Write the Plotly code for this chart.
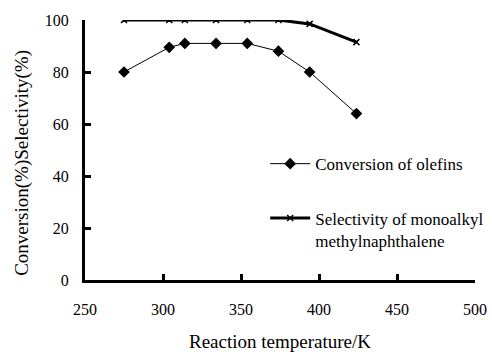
import plotly.graph_objects as go

temperature = [275, 304, 314, 334, 354, 374, 394, 424]
conversion = [80, 89.5, 91, 91, 91, 88, 80, 64]
selectivity = [100, 100, 100, 100, 100, 100, 98.5, 91.5]

x_ticks = [250, 300, 350, 400, 450, 500]
y_ticks = [0, 20, 40, 60, 80, 100]

x_title = "Reaction temperature/K"
y_title = "Conversion(%)Selectivity(%)"

FONT = "Liberation Serif"

fig = go.Figure()
fig.add_trace(go.Scatter(
    x=temperature, y=conversion, mode="lines+markers",
    name="Conversion of olefins",
    line=dict(color="black", width=1),
    marker=dict(symbol="diamond", size=9, color="black"),
    legend="legend",
))
fig.add_trace(go.Scatter(
    x=temperature, y=selectivity, mode="lines+markers",
    name="Selectivity of monoalkyl<br>methylnaphthalene",
    line=dict(color="black", width=3),
    marker=dict(symbol="x-thin", size=6, color="black", line=dict(color="black", width=1.5)),
    legend="legend2",
))

fig.update_layout(
    width=492, height=352, autosize=False,
    margin=dict(l=85, r=17, t=20, b=72, autoexpand=False),
    paper_bgcolor="white", plot_bgcolor="white",
    font=dict(family=FONT, size=16, color="black"),
    showlegend=True,
    legend=dict(x=0.462, y=0.515, xanchor="left", yanchor="top",
                bgcolor="rgba(0,0,0,0)", font=dict(family=FONT, size=17),
                itemwidth=40, valign="top"),
    legend2=dict(x=0.462, y=0.306, xanchor="left", yanchor="top",
                 bgcolor="rgba(0,0,0,0)", font=dict(family=FONT, size=17),
                 itemwidth=40, valign="top"),
    annotations=[
        dict(text=x_title, xref="paper", yref="paper", x=0.5, y=-0.2365,
             xanchor="center", yanchor="middle", showarrow=False,
             font=dict(family=FONT, size=19)),
        dict(text=y_title, xref="paper", yref="paper", x=-0.162, y=0.45,
             xanchor="center", yanchor="middle", showarrow=False, textangle=-90,
             font=dict(family=FONT, size=19)),
    ],
)
fig.update_xaxes(
    range=[250, 500], tickvals=x_ticks, ticktext=[str(v) for v in x_ticks],
    showgrid=False, zeroline=False, showline=True, linecolor="black", linewidth=3,
    ticks="inside", ticklen=6, tickwidth=3, tickcolor="black",
    ticklabelstandoff=13, automargin=False,
    tickfont=dict(family=FONT, size=16),
)
fig.update_yaxes(
    range=[0, 100], tickvals=y_ticks, ticktext=[str(v) for v in y_ticks],
    showgrid=False, zeroline=False, showline=True, linecolor="black", linewidth=3,
    ticks="inside", ticklen=6, tickwidth=3, tickcolor="black",
    ticklabelstandoff=10, automargin=False,
    tickfont=dict(family=FONT, size=16),
)

fig.write_html("out.html",
               config={"displayModeBar": False, "responsive": False},
               post_script="document.body.style.margin='0';")
